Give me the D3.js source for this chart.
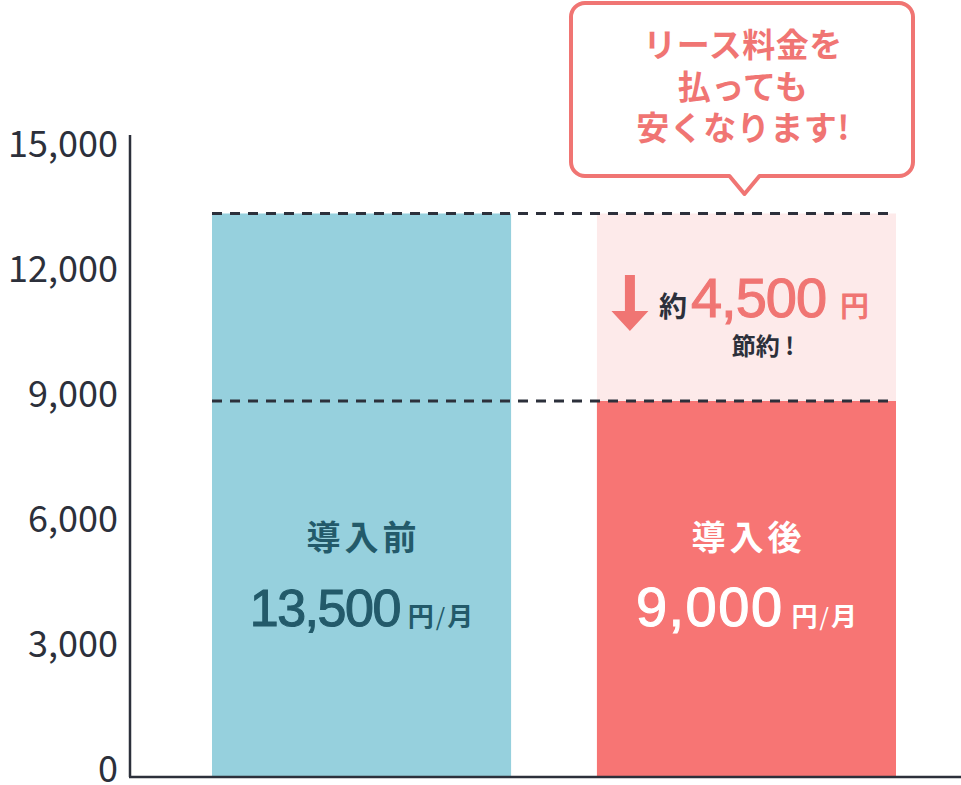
<!DOCTYPE html>
<html>
<head>
<meta charset="utf-8">
<script src="https://cdn.jsdelivr.net/npm/d3@7"></script>
<style>
  body { margin: 0; background: #fff; }
  svg { display: block; font-family: "Noto Sans CJK JP", "Noto Sans", sans-serif; }
</style>
</head>
<body>
<svg id="chart" width="961" height="785"></svg>
<script>
// chart values
var categories = ["導入前", "導入後"];
var monthlyFees = [13500, 9000];
var feeLabels = ["13,500", "9,000"];
var yTicks = [0, 3000, 6000, 9000, 12000, 15000];
var savingLabel = "4,500";
var calloutLines = ["リース料金を", "払っても", "安くなります!"];

var barColours = ["#96d0dd", "#f77574"];
var nameColours = ["#235a6a", "#ffffff"];
var feeSizes = [52, 56];
var feeSpacing = [-1.5, 1.5];
var PINK = "#f07573";
var INK = "#2c303b";
var NUMFONT = "'Liberation Sans', Arial, sans-serif";

var svg = d3.select("#chart");

var y = d3.scaleLinear().domain([0, 15000]).range([776, 151]);
var x = d3.scaleBand().domain(categories).range([212, 896]).paddingInner(0.223);

// saved amount band above the second bar
svg.append("rect")
  .attr("x", x(categories[1]))
  .attr("y", y(monthlyFees[0]))
  .attr("width", x.bandwidth())
  .attr("height", y(monthlyFees[1]) - y(monthlyFees[0]))
  .attr("fill", "#fdeaea");

// bars
svg.selectAll(".bar")
  .data(categories)
  .enter()
  .append("rect")
  .attr("class", "bar")
  .attr("x", function (d) { return x(d); })
  .attr("y", function (d, i) { return y(monthlyFees[i]); })
  .attr("width", x.bandwidth())
  .attr("height", function (d, i) { return y(0) - y(monthlyFees[i]); })
  .attr("fill", function (d, i) { return barColours[i]; });

// dashed reference lines at both fees
svg.selectAll(".ref")
  .data(monthlyFees)
  .enter()
  .append("line")
  .attr("class", "ref")
  .attr("x1", x(categories[0]))
  .attr("x2", x(categories[1]) + x.bandwidth())
  .attr("y1", function (d) { return y(d); })
  .attr("y2", function (d) { return y(d); })
  .attr("stroke", INK)
  .attr("stroke-width", 3)
  .attr("stroke-dasharray", "10,8");

// y axis
var yAxis = d3.axisLeft(y)
  .tickValues(yTicks)
  .tickFormat(d3.format(","))
  .tickSize(0)
  .tickPadding(12);

var axisG = svg.append("g")
  .attr("transform", "translate(130,0)")
  .call(yAxis);
axisG.select(".domain").remove();
axisG.selectAll("text")
  .attr("dy", "0.14em")
  .attr("fill", INK)
  .style("font-size", "36px")
  .style("font-family", "'Noto Sans CJK JP', sans-serif");

// axis lines
svg.append("line")
  .attr("x1", 130).attr("x2", 130)
  .attr("y1", y(0) + 1).attr("y2", y(15000) - 16)
  .attr("stroke", INK).attr("stroke-width", 2.5);
svg.append("line")
  .attr("x1", 129).attr("x2", 961)
  .attr("y1", y(0) + 1).attr("y2", y(0) + 1)
  .attr("stroke", INK).attr("stroke-width", 2.5);

// labels inside bars
categories.forEach(function (d, i) {
  var cx = x(d) + x.bandwidth() / 2;
  svg.append("text")
    .attr("x", cx + 2)
    .attr("y", 550)
    .attr("text-anchor", "middle")
    .attr("fill", nameColours[i])
    .style("font-size", "34px")
    .style("font-weight", 700)
    .style("letter-spacing", "4px")
    .text(d);

  var t = svg.append("text")
    .attr("x", cx)
    .attr("y", 626)
    .attr("text-anchor", "middle")
    .attr("fill", nameColours[i]);
  t.append("tspan")
    .attr("stroke", nameColours[i])
    .attr("stroke-width", 1.1)
    .style("font-family", NUMFONT)
    .style("font-size", feeSizes[i] + "px")
    .style("letter-spacing", feeSpacing[i] + "px")
    .text(feeLabels[i]);
  t.append("tspan")
    .attr("dx", 8)
    .style("font-size", "26px")
    .style("font-weight", 700)
    .text("円");
  t.append("tspan")
    .attr("dx", 2)
    .style("font-size", "24px")
    .text("/");
  t.append("tspan")
    .attr("dx", 2)
    .style("font-size", "26px")
    .style("font-weight", 700)
    .text("月");
});

// saving annotation
var sx = x(categories[1]);
svg.append("path")
  .attr("d", "M" + (sx + 28) + ",275 h10 v36 h13.5 l-18.5,20 l-18.5,-20 h13.5 z")
  .attr("fill", PINK);

var s = svg.append("text")
  .attr("x", sx + 62)
  .attr("y", 317);
s.append("tspan")
  .attr("fill", INK)
  .style("font-size", "28px")
  .style("font-weight", 700)
  .text("約");
s.append("tspan")
  .attr("dx", 4)
  .attr("fill", PINK)
  .attr("stroke", PINK)
  .attr("stroke-width", 1.1)
  .style("font-family", NUMFONT)
  .style("font-size", "56px")
  .style("letter-spacing", "-1px")
  .text(savingLabel);
s.append("tspan")
  .attr("dx", 14)
  .attr("fill", PINK)
  .style("font-size", "29px")
  .style("font-weight", 700)
  .text("円");

svg.append("text")
  .attr("x", sx + 166)
  .attr("y", 355)
  .attr("text-anchor", "middle")
  .attr("fill", INK)
  .style("font-size", "24px")
  .style("font-weight", 700)
  .text("節約 !");

// callout bubble
var bx = 571, by = 3, bw = 342, bh = 173, r = 14;
var tailX = x(categories[1]) + x.bandwidth() / 2 - 2;
var bubble = d3.path();
bubble.moveTo(bx + r, by);
bubble.lineTo(bx + bw - r, by);
bubble.arcTo(bx + bw, by, bx + bw, by + r, r);
bubble.lineTo(bx + bw, by + bh - r);
bubble.arcTo(bx + bw, by + bh, bx + bw - r, by + bh, r);
bubble.lineTo(tailX + 15, by + bh);
bubble.lineTo(tailX, by + bh + 18);
bubble.lineTo(tailX - 15, by + bh);
bubble.lineTo(bx + r, by + bh);
bubble.arcTo(bx, by + bh, bx, by + bh - r, r);
bubble.lineTo(bx, by + r);
bubble.arcTo(bx, by, bx + r, by, r);
bubble.closePath();

svg.append("path")
  .attr("d", bubble.toString())
  .attr("fill", "#fff")
  .attr("stroke", PINK)
  .attr("stroke-width", 4)
  .attr("stroke-linejoin", "round");

svg.selectAll(".callout")
  .data(calloutLines)
  .enter()
  .append("text")
  .attr("class", "callout")
  .attr("x", 743)
  .attr("y", function (d, i) { return 57 + i * 41.5; })
  .attr("text-anchor", "middle")
  .attr("fill", PINK)
  .style("font-size", "33px")
  .style("font-weight", 700)
  .style("letter-spacing", "0.5px")
  .text(function (d) { return d; });
</script>
</body>
</html>
